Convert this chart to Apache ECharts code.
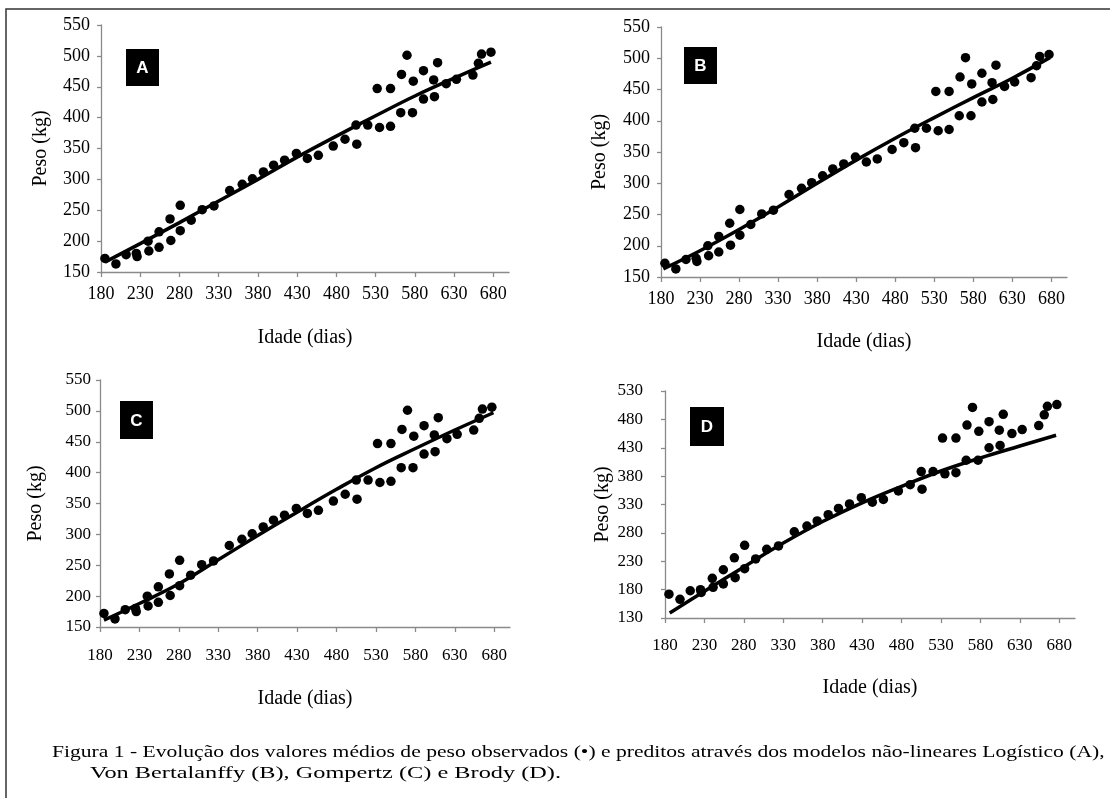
<!DOCTYPE html>
<html>
<head>
<meta charset="utf-8">
<script src="https://cdn.jsdelivr.net/npm/echarts@6/dist/echarts.min.js"></script>
<style>
html,body{margin:0;padding:0;background:#fff;}
#chart{width:1110px;height:798px;}
</style>
</head>
<body>
<div id="chart"></div>
<script>
// Observed data (same in all four panels)
const ages = [185,199,212,225,226,240,241,254,254,268,269,281,281,295,309,324,344,360,373,387,400,414,429,443,457,476,491,505,506,520,532,535,549,549,562,563,570,577,578,591,591,604,605,609,620,633,654,661,665,677];
const weights = [172,163,178,180,175,200,184,215,190,236,201,258,217,234,251,257,282,292,301,312,323,331,342,334,339,354,365,388,357,388,447,384,447,386,408,470,501,408,459,476,430,461,434,489,455,462,469,488,503,506];

// Predicted curves
const fitAx = [185,230,280,330,380,430,480,530,580,630,677];
const fitAy = [166,196,230,265,300,336,370,403,435,464,490];
const fitBx = [183,230,280,330,380,430,480,530,580,630,678];
const fitBy = [163,192,226,262,300,337,372,405,437,468,501];
const fitCx = [185,230,280,330,380,430,480,530,580,630,679];
const fitCy = [161,188,220,259,298,336,373,408,439,469,497];
const fitDx = [186,230,280,330,380,430,480,530,580,630,676];
const fitDy = [139,177,220,262,300,333,362,389,412,433,452];

// Tick labels
const xTicks = [180,230,280,330,380,430,480,530,580,630,680];
const yTicksABC = [150,200,250,300,350,400,450,500,550];
const yTicksD = [130,180,230,280,330,380,430,480,530];

const panelLetters = ['A','B','C','D'];
const xName = 'Idade (dias)';
const yName = 'Peso (kg)';
const captionLine1 = 'Figura 1 - Evolução dos valores médios de peso observados (•) e preditos através dos modelos não-lineares Logístico (A),';
const captionLine2 = 'Von Bertalanffy (B), Gompertz (C) e Brody (D).';

const zip = (a, b) => a.map((v, i) => [v, b[i]]);
const serif = '"Liberation Serif", "Times New Roman", serif';

const grids = [
  {left: 101, top: 25, width: 408, height: 247},
  {left: 661, top: 27, width: 406, height: 250},
  {left: 100, top: 380, width: 410, height: 247},
  {left: 665, top: 391, width: 410, height: 227}
];
const nameGaps = [[56, 50], [55, 51], [62, 54], [60, 52]];
const xLabelMargin = [13, 13, 20, 19];
const yLabelMargin = [11, 11, 9, 22];
const tickFont = [18, 18, 17, 17];

const axisColor = '#8a8a8a';
const xAxes = grids.map((g, i) => ({
  type: 'value', gridIndex: i, min: 180, max: 700,
  name: xName, nameLocation: 'middle', nameGap: nameGaps[i][0],
  nameTextStyle: {fontFamily: serif, fontSize: 20, color: '#000'},
  axisLine: {show: true, lineStyle: {color: axisColor, width: 1.3}},
  axisTick: {show: true, length: 5, lineStyle: {color: axisColor, width: 1.3}, customValues: xTicks},
  axisLabel: {fontFamily: serif, fontSize: tickFont[i], color: '#000', margin: xLabelMargin[i], customValues: xTicks},
  splitLine: {show: false}
}));
const yAxes = grids.map((g, i) => {
  const t = i === 3 ? yTicksD : yTicksABC;
  return {
    type: 'value', gridIndex: i, min: t[0], max: t[t.length - 1], interval: 50,
    name: yName, nameLocation: 'middle', nameGap: nameGaps[i][1],
    nameTextStyle: {fontFamily: serif, fontSize: 20, color: '#000'},
    axisLine: {show: true, lineStyle: {color: axisColor, width: 1.3}},
    axisTick: {show: true, length: 4, lineStyle: {color: axisColor, width: 1.3}},
    axisLabel: {fontFamily: serif, fontSize: tickFont[i], color: '#000', margin: yLabelMargin[i]},
    splitLine: {show: false}
  };
});

const fits = [zip(fitAx, fitAy), zip(fitBx, fitBy), zip(fitCx, fitCy), zip(fitDx, fitDy)];
const obs = zip(ages, weights);
const series = [];
for (let i = 0; i < 4; i++) {
  series.push({
    type: 'scatter', xAxisIndex: i, yAxisIndex: i, data: obs,
    symbol: 'circle', symbolSize: 9.5, itemStyle: {color: '#000', opacity: 1}, z: 2
  });
  series.push({
    type: 'line', xAxisIndex: i, yAxisIndex: i, data: fits[i], smooth: 0.4,
    showSymbol: false, lineStyle: {color: '#000', width: 3.5}, z: 3
  });
}

const boxes = [
  {x: 126, y: 49, w: 33, h: 37},
  {x: 684, y: 47, w: 33, h: 37},
  {x: 120, y: 401, w: 33, h: 38},
  {x: 690, y: 407, w: 34, h: 39}
];
const graphic = [];
boxes.forEach((b, i) => {
  graphic.push({type: 'rect', shape: {x: b.x, y: b.y, width: b.w, height: b.h}, style: {fill: '#000'}, z: 10});
  graphic.push({type: 'text', x: b.x + b.w / 2, y: b.y + b.h / 2 + 1,
    style: {text: panelLetters[i], fill: '#fff', font: 'bold 17px "Liberation Sans", Arial, sans-serif', textAlign: 'center', textVerticalAlign: 'middle'}, z: 11});
});
// outer frame
graphic.push({type: 'polyline', shape: {points: [[6, 800], [6, 9], [1112, 9]]}, style: {stroke: '#333', lineWidth: 1.5, fill: null}, z: 1});
graphic.push({type: 'text', x: 52, y: 753, scaleX: 1.27, style: {text: captionLine1, fill: '#000', font: '17px ' + serif, textVerticalAlign: 'middle'}});
graphic.push({type: 'text', x: 90, y: 774, scaleX: 1.43, style: {text: captionLine2, fill: '#000', font: '17px ' + serif, textVerticalAlign: 'middle'}});

const chart = echarts.init(document.getElementById('chart'), null, {renderer: 'canvas'});
chart.setOption({
  animation: false,
  backgroundColor: '#fff',
  grid: grids.map(g => Object.assign({containLabel: false}, g)),
  xAxis: xAxes,
  yAxis: yAxes,
  series: series,
  graphic: graphic
});
</script>
</body>
</html>
